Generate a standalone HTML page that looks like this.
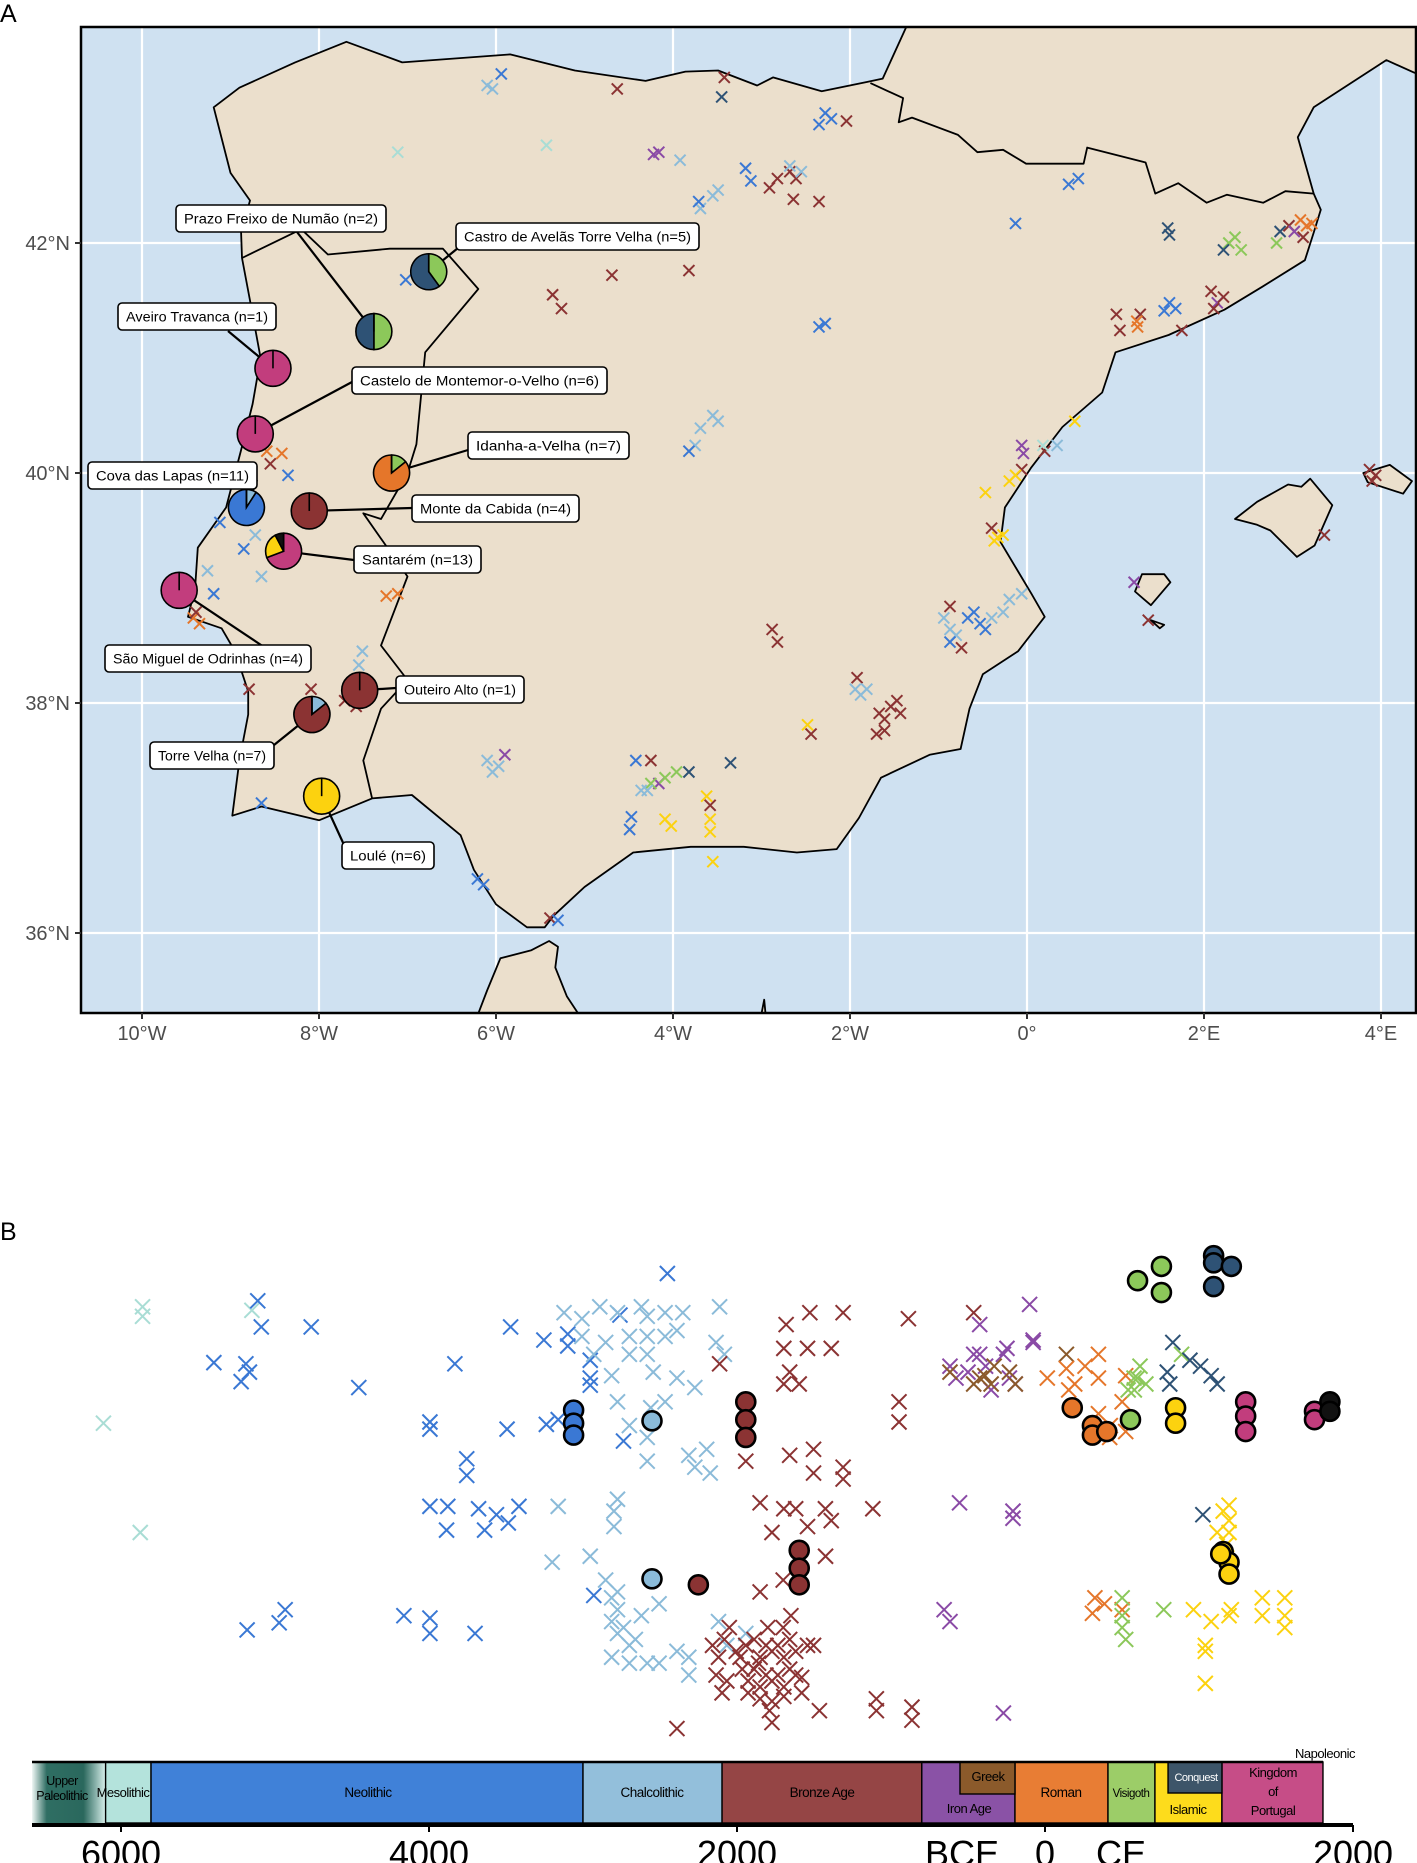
<!DOCTYPE html>
<html><head><meta charset="utf-8"><title>Iberia samples map and timeline</title>
<style>
html,body{margin:0;padding:0;background:#fff;}
svg{display:block;font-family:"Liberation Sans",Arial,sans-serif;}
</style></head>
<body>
<svg id="fig" width="1417" height="1863" viewBox="0 0 1417 1863" xmlns="http://www.w3.org/2000/svg">
<defs>
<clipPath id="mapclip"><rect x="81" y="27" width="1335" height="986"/></clipPath>
<linearGradient id="upgrad" x1="0" x2="1" y1="0" y2="0">
<stop offset="0" stop-color="#eef6f4"/><stop offset="0.2" stop-color="#2f6e63"/><stop offset="0.7" stop-color="#2a685d"/><stop offset="1" stop-color="#d8efeb"/>
</linearGradient>
</defs>
<text x="0" y="22" font-size="25">A</text>
<text x="0" y="1240" font-size="25">B</text>
<g id="map"></g>
<g id="timeline"></g>
</svg>
<script>
// ===== Map data =====
const mapLon = [-6.04,-5.94,-6.10,-7.11,-5.43,-4.63,-3.42,-3.45,-4.16,-4.22,-3.92,-3.69,-3.55,-3.49,-3.71,-3.18,-3.12,-2.91,-2.82,-2.68,-2.61,-2.68,-2.55,-2.64,-2.35,-2.28,-2.21,-2.35,-2.04,0.58,0.47,-0.13,1.59,1.61,2.35,2.28,2.22,2.42,2.82,2.86,2.96,3.09,3.16,3.12,3.02,3.22,
1.61,1.55,1.68,1.28,2.08,2.15,2.22,2.11,1.75,1.01,1.05,1.24,1.25,
-4.69,-3.82,-5.36,-5.26,-2.35,-2.28,-3.55,-3.49,-3.69,-3.75,-3.82,-7.02,
0.20,0.18,-0.06,-0.04,-0.06,0.54,-0.13,-0.20,-0.47,-0.40,-0.37,-0.33,-0.27,3.87,3.90,3.94,3.36,
-0.87,-0.94,-0.87,-0.80,-0.67,-0.60,-0.53,-0.47,-0.40,-0.27,-0.74,-0.87,1.21,1.37,
-2.88,-2.82,-1.92,-1.94,-1.88,-1.81,-1.67,-1.61,-1.54,-1.47,-1.43,-1.61,-1.70,-2.48,-2.44,-4.25,-4.16,-4.25,-4.09,-3.96,-4.29,-4.36,-3.82,-4.42,-4.47,-4.49,-4.09,-4.02,-3.62,-3.58,-3.58,-3.58,-3.55,-3.35,-6.10,-6.04,-5.97,-5.90,-6.21,-6.14,-5.39,-5.30,
-8.55,-8.42,-8.59,-8.35,-9.12,-8.85,-8.72,-8.65,-9.26,-9.19,-9.42,-9.35,-9.39,-7.24,-7.11,-8.79,-8.09,-7.71,-7.58,-7.51,-7.55,-8.65,-0.06,-0.20,0.34];
const mapLat = [43.34,43.47,43.37,42.79,42.85,43.34,43.44,43.27,42.79,42.77,42.72,42.30,42.41,42.46,42.36,42.65,42.54,42.48,42.56,42.62,42.56,42.67,42.62,42.38,42.36,43.13,43.08,43.03,43.06,42.56,42.51,42.17,42.13,42.07,42.05,42.00,41.94,41.94,42.00,42.10,42.15,42.20,42.15,42.05,42.10,42.17,
41.48,41.41,41.43,41.38,41.58,41.48,41.53,41.43,41.24,41.38,41.24,41.32,41.27,
41.72,41.76,41.55,41.43,41.27,41.30,40.50,40.45,40.39,40.24,40.19,41.68,
40.19,40.24,40.24,40.17,40.03,40.45,39.98,39.93,39.83,39.52,39.41,39.44,39.46,40.03,39.93,39.98,39.46,
38.84,38.74,38.64,38.59,38.74,38.79,38.69,38.64,38.74,38.79,38.48,38.53,39.05,38.72,
38.64,38.53,38.22,38.12,38.07,38.12,37.91,37.86,37.97,38.02,37.91,37.76,37.73,37.81,37.73,37.50,37.30,37.30,37.35,37.40,37.24,37.24,37.40,37.50,37.01,36.90,36.99,36.93,37.19,37.11,36.99,36.88,36.62,37.48,37.50,37.40,37.45,37.55,36.47,36.42,36.13,36.11,
40.08,40.17,40.19,39.98,39.57,39.34,39.46,39.10,39.15,38.95,38.74,38.69,38.79,38.93,38.95,38.12,38.12,38.02,37.97,38.45,38.33,37.13,38.95,38.90,40.24];
const mapPer = ("CNCMMBBSIICCCCNNNBBBBCCBBNNNBNNNSSVVSVVSBRRBIR"+
"NNNBBIBBBBBRR"+
"BBBBNNCCCCNN"+
"BMIIBYYYYBYYYBBBB"+
"BCCCNNNNCCBNIB"+
"BBBCCCBBBBBBBYBBIVVVCCSNNNYYYBYYYSCCCINNBN"+
"BRRNNNCCCNRRBRRBBBBCCNCCC").split("");

const siteNames = ["Castro de Avelãs Torre Velha (n=5)","Prazo Freixo de Numão (n=2)","Aveiro Travanca (n=1)","Castelo de Montemor-o-Velho (n=6)","Idanha-a-Velha (n=7)","Cova das Lapas (n=11)","Monte da Cabida (n=4)","Santarém (n=13)","São Miguel de Odrinhas (n=4)","Outeiro Alto (n=1)","Torre Velha (n=7)","Loulé (n=6)"];
const siteLon = [-6.76,-7.38,-8.52,-8.72,-7.18,-8.82,-8.11,-8.40,-9.58,-7.54,-8.08,-7.97];
const siteLat = [41.75,41.23,40.91,40.34,40.00,39.70,39.67,39.32,38.98,38.11,37.90,37.19];
const siteComp = [[["V",2],["S",3]],[["V",1],["S",1]],[["K",1]],[["K",6]],[["V",1],["R",6]],[["C",1],["N",10]],[["B",4]],[["K",9],["Y",3],["X",1]],[["K",4]],[["B",1]],[["C",1],["B",6]],[["Y",6]]];

// ===== Timeline data =====
const crossYear = [-5860,-5860,-6114,-5875,-5150,
-5112,-5089,-4765,-5397,-5189,-5166,-5220,-4456,-3994,-3994,-3493,-3238,-3755,-3755,-3832,-3470,-3254,-3994,-3878,-3678,-3562,-3416,-3886,-3639,-3485,-5181,-4973,-4934,-4163,-3994,-3994,-3701,-3099,-3099,-2953,-2953,-2953,-3161,-2930,-2452,-2760,-2737,
-3123,-3007,-2891,-2776,-2621,-2583,-2467,-2352,-3007,-2853,-2699,-2583,-2467,-2390,-2930,-2699,-2583,-2814,-2544,-2390,-2776,-2560,-2467,-2274,-2136,-2082,-2699,-2583,-2313,-2197,-2274,-2174,-2583,-2776,-2799,-2799,-3161,-2953,-3200,-2814,-2776,-2814,-2776,-2699,-2814,-2621,-2506,-2583,-2390,-2313,-2313,-2066,-1943,-2120,-2506,-2853,-2776,-2737,-2699,-2660,
-2113,-2113,-1681,-1527,-1311,-887,-1696,-1658,-1542,-1388,-1696,-1596,-948,-948,-1943,-1658,-1503,-1503,-1311,-1311,-1696,-1619,-1426,-1118,-1850,-1773,-1542,-1388,-1425,
-2159,-2120,-2082,-2005,-1943,-1889,-1850,-1812,-1773,-1735,-1696,-1658,-1619,-1542,-1503,-2136,-2066,-1966,-1928,-1889,-1850,-1812,-1773,-1735,-1696,-1658,-1619,-1580,-1928,-1850,-1773,-1696,-1580,-2097,-1980,-1860,-1700,-1650,-1800,-2050,-2390,-1789,-1773,-1095,-1095,-864,-864,-1465,-1850,-1700,
-463,-424,-100,-247,-77,-77,-617,-578,-463,-386,-270,-231,-193,-555,-208,-208,-655,-617,-270,-500,-350,
-424,-424,-463,-617,-231,-193,-330,-350,-390,
139,139,347,347,15,154,193,347,424,501,524,324,308,386,501,260,420,
524,578,617,655,540,501,501,501,771,524,600,580,
887,941,794,810,1079,1118,830,1010,
1025,1157,1195,1195,1118,1195,964,1079,1210,1411,1411,1557,1557,1557,1041,1041,1041,1195,1180];
const crossJit = [60,68,158,250,63,
55,77,77,107,108,115,123,128,157,163,163,159,188,202,108,77,88,228,228,230,235,228,248,248,242,332,326,315,320,322,335,335,83,93,105,120,126,155,303,32,67,173,
65,70,60,65,60,68,65,65,85,90,85,85,85,80,100,100,100,118,115,120,140,145,140,128,90,100,160,170,185,180,195,200,190,222,232,245,228,270,275,305,315,325,335,345,355,320,310,360,350,355,370,345,335,325,360,290,300,330,360,340,
60,108,75,65,65,70,95,115,95,95,125,125,140,157,190,185,180,200,195,205,230,230,230,230,225,250,245,240,270,
345,355,340,350,345,340,355,345,350,345,355,340,350,345,345,370,375,365,375,365,380,370,375,370,380,365,370,372,385,390,392,388,385,385,355,360,330,320,330,330,415,400,410,390,400,397,408,400,300,290,
65,75,58,95,90,88,110,120,100,110,100,120,125,225,232,238,315,325,402,115,130,
100,120,125,115,115,125,110,125,118,
100,112,100,120,120,130,125,150,160,140,165,305,318,310,315,110,170,
118,120,110,125,130,305,320,330,315,340,120,130,
100,105,115,125,118,125,90,110,
235,232,240,250,250,227,315,325,315,305,320,305,320,330,345,350,377,320,260];
const crossPer = ("MMMMM"+"N".repeat(42)+"C".repeat(61)+"B".repeat(29)+"B".repeat(50)+"I".repeat(21)+"G".repeat(9)+"R".repeat(17)+"V".repeat(12)+"S".repeat(8)+"Y".repeat(19)).split("");

const circYear = [-3061,-3061,-3061,-2552,-2552,-1943,-1943,-1943,-2251,-1596,-1596,-1596,601,756,756,555,1095,1095,1210,1095,177,308,308,401,848,848,1157,1195,1195,1141,1303,1303,1303,1750,1750,1850,1850];
const circJit = [147,158,168,156,289,140,155,170,294,265,280,294,38,26,48,155,17,23,26,43,145,160,168,165,145,158,266,275,285,268,140,152,165,148,155,140,148];
const circPer = "NNNCCBBBBBBBVVVVSSSSRRRRYYYYYYKKKKKXX".split("");

const periodNames = ["Upper Paleolithic","Mesolithic","Neolithic","Chalcolithic","Bronze Age","Iron Age","Roman","Visigoth","Islamic","Kingdom of Portugal"];
const periodStart = [-6700,-6100,-5805,-3000,-2097,-800,-195,409,714,1149];
const periodEnd   = [-6100,-5805,-3000,-2097,-800,-195,409,714,1149,1805];
const periodColor = ["url(#upgrad)","#b4e3dc","#4081d8","#93bfdb","#954545","#8a52a6","#e87d34","#9ccd68","#fddc1c","#c64d87"];
const axisYears = [-6000,-4000,-2000,0,2000];
const axisLabels = ["6000","4000","2000","0","2000"];

const COL = {M:'#a9ddd5',N:'#3a78d4',C:'#8bbbd9',B:'#8b3333',I:'#8a4aa6',G:'#8b5a2b',R:'#e5762a',V:'#8cc85a',S:'#2e5275',Y:'#fcd20f',K:'#c23d7d',X:'#111111'};

const NS='http://www.w3.org/2000/svg';
function mk(tag,parent){const e=document.createElementNS(NS,tag);parent.appendChild(e);return e;}
function set(e,k,v){e.setAttribute(k,v);}

// ===== Map =====
const lx = lon => 1027 + lon*88.5;
const ly = lat => 473 - (lat-40)*115;
const mapG = document.getElementById('map');
const bg = mk('rect',mapG);
set(bg,'x',81);set(bg,'y',27);set(bg,'width',1335);set(bg,'height',986);set(bg,'fill','#cfe1f1');



[-10,-8,-6,-4,-2,0,2,4].forEach(v=>{const l=mk('line',mapG);set(l,'x1',lx(v));set(l,'x2',lx(v));set(l,'y1',27);set(l,'y2',1013);set(l,'stroke','#fff');set(l,'stroke-width',2.2);

});
[36,38,40,42].forEach(v=>{const l=mk('line',mapG);set(l,'x1',81);set(l,'x2',1416);set(l,'y1',ly(v));set(l,'y2',ly(v));set(l,'stroke','#fff');set(l,'stroke-width',2.2);

});

const mg = mk('g',mapG); set(mg,'clip-path','url(#mapclip)');
function poly(pts,closed,fill,name){
  const p=mk('path',mg);
  const d=pts.map((q,i)=>(i?'L':'M')+lx(q[0]).toFixed(1)+' '+ly(q[1]).toFixed(1)).join(' ')+(closed?' Z':'');
  set(p,'d',d);set(p,'fill',fill);set(p,'stroke','#000');set(p,'stroke-width',1.8);set(p,'stroke-linejoin','round');
  
  
  return p;
}
const LAND='#ebdfcc';
poly([[-1.63,43.43],[-1.81,43.40],[-2.32,43.32],[-2.87,43.44],[-3.05,43.37],[-3.49,43.50],[-3.86,43.49],[-4.31,43.41],[-5.11,43.50],[-5.84,43.64],[-7.06,43.57],[-7.69,43.75],[-8.27,43.57],[-8.9,43.35],[-9.19,43.18],[-9.0,42.61],[-8.78,42.37],[-8.88,42.09],[-8.87,41.87],[-8.78,41.5],[-8.66,41.0],[-8.75,40.6],[-8.88,40.2],[-9.05,39.7],[-9.37,39.35],[-9.4,39.0],[-9.48,38.75],[-9.1,38.65],[-8.95,38.45],[-8.8,38.1],[-8.8,37.9],[-8.9,37.5],[-8.98,37.02],[-8.65,37.1],[-8.0,36.98],[-7.4,37.17],[-6.95,37.2],[-6.4,36.85],[-6.25,36.55],[-6.0,36.25],[-5.65,36.05],[-5.45,36.05],[-5.35,36.15],[-5.0,36.4],[-4.45,36.7],[-3.8,36.75],[-3.2,36.75],[-2.6,36.7],[-2.15,36.73],[-1.9,37.0],[-1.65,37.35],[-1.1,37.55],[-0.75,37.6],[-0.65,37.95],[-0.5,38.25],[-0.1,38.45],[0.2,38.75],[0.05,38.95],[-0.3,39.4],[-0.25,39.7],[0.05,40.05],[0.4,40.4],[0.85,40.7],[1.0,41.05],[1.6,41.2],[2.23,41.42],[2.66,41.62],[3.14,41.85],[3.24,42.09],[3.32,42.29],[3.24,42.43],[3.06,42.92],[3.24,43.18],[4.06,43.59],[4.38,43.48],[4.6,43.45],[4.6,44.1],[-1.30,44.1],[-1.37,43.87]],true,LAND,'iberia-land');
poly([[-6.3,35.1],[-6.1,35.5],[-5.95,35.78],[-5.6,35.85],[-5.4,35.93],[-5.3,35.88],[-5.33,35.7],[-5.2,35.45],[-4.9,35.1]],true,LAND,'africa-land');
poly([[-3.05,35.1],[-2.97,35.42],[-2.93,35.1]],true,LAND,'melilla-cape');
poly([[2.35,39.6],[2.6,39.55],[2.75,39.5],[3.05,39.27],[3.25,39.37],[3.45,39.72],[3.2,39.95],[3.1,39.88],[2.95,39.9],[2.6,39.75]],true,LAND,'mallorca');
poly([[3.8,40.0],[4.1,40.07],[4.35,39.93],[4.25,39.82],[3.85,39.92]],true,LAND,'menorca');
poly([[1.22,38.97],[1.4,38.85],[1.62,39.05],[1.55,39.12],[1.3,39.12]],true,LAND,'ibiza');
poly([[1.4,38.72],[1.55,38.68],[1.5,38.65]],true,LAND,'formentera');
poly([[-8.87,41.87],[-8.2,42.12],[-7.9,41.9],[-7.2,41.95],[-6.6,41.95],[-6.2,41.6],[-6.8,41.05],[-6.9,40.25],[-7.0,40.0],[-7.3,39.6],[-7.5,39.65],[-7.0,39.1],[-7.3,38.5],[-7.0,38.2],[-7.3,37.95],[-7.5,37.5],[-7.4,37.17]],false,'none','portugal-border');
poly([[-1.77,43.39],[-1.40,43.26],[-1.45,43.05],[-1.30,43.09],[-0.78,42.94],[-0.56,42.79],[-0.27,42.81],[-0.01,42.69],[0.64,42.69],[0.68,42.83],[1.34,42.70],[1.45,42.43],[1.71,42.52],[2.03,42.35],[2.26,42.42],[2.67,42.35],[2.92,42.45],[3.24,42.43]],false,'none','france-border');

function cross(parent,x,y,h,c,w){const p=mk('path',parent);set(p,'d',`M${x-h} ${y-h}L${x+h} ${y+h}M${x-h} ${y+h}L${x+h} ${y-h}`);set(p,'stroke',c);set(p,'stroke-width',w);set(p,'fill','none');return p;}
const ptsG = mk('g',mapG); set(ptsG,'clip-path','url(#mapclip)');
for(let i=0;i<mapLon.length;i++){
  const c=cross(ptsG,lx(mapLon[i]),ly(mapLat[i]),5.5,COL[mapPer[i]]||'#555',2);
  
  
}
const boxX=[456,176,118,352,468,88,412,354,105,396,150,342], boxY=[223,205,303,367,432,462,495,546,645,676,742,842], boxW=[243,210,158,255,161,169,167,127,206,128,124,92];
const anchX=[458,297,228,352,468,257,412,354,264,396,274,345], anchY=[248,232,331,382,450,480,508,560,647,688,745,847];
const labG = mk('g',mapG);
for(let i=0;i<siteNames.length;i++){
  const l=mk('line',labG);set(l,'x1',anchX[i]);set(l,'y1',anchY[i]);set(l,'x2',lx(siteLon[i]));set(l,'y2',ly(siteLat[i]));set(l,'stroke','#000');set(l,'stroke-width',2.2);
  
  
}
for(let i=0;i<siteNames.length;i++){
  const cx=lx(siteLon[i]), cy=ly(siteLat[i]), r=18;
  const total=siteComp[i].reduce((a,b)=>a+b[1],0);
  const g=mk('g',labG);
  
  
  let a0=0;
  siteComp[i].forEach(s=>{
    const frac=s[1]/total; const a1=a0+frac*2*Math.PI;
    let e;
    if(frac>=0.999){e=mk('circle',g);set(e,'cx',cx);set(e,'cy',cy);set(e,'r',r);}
    else{e=mk('path',g);
      const x0=cx+r*Math.sin(a0),y0=cy-r*Math.cos(a0),x1=cx+r*Math.sin(a1),y1=cy-r*Math.cos(a1);
      set(e,'d',`M${cx} ${cy}L${x0} ${y0}A${r} ${r} 0 ${frac>0.5?1:0} 1 ${x1} ${y1}Z`);}
    set(e,'fill',COL[s[0]]);set(e,'stroke','#000');set(e,'stroke-width',1.6);
    
    
    a0=a1;
  });
  const tk=mk('line',g);set(tk,'x1',cx);set(tk,'y1',cy);set(tk,'x2',cx);set(tk,'y2',cy-r);set(tk,'stroke','#000');set(tk,'stroke-width',1.6);
}
for(let i=0;i<siteNames.length;i++){
  const b=mk('rect',labG);set(b,'x',boxX[i]);set(b,'y',boxY[i]);set(b,'width',boxW[i]);set(b,'height',27);set(b,'rx',4);set(b,'fill','#fff');set(b,'stroke','#000');set(b,'stroke-width',1.6);
  
  
  const t=mk('text',labG);set(t,'x',boxX[i]+boxW[i]/2);set(t,'y',boxY[i]+18.5);set(t,'text-anchor','middle');set(t,'font-size',13.5);set(t,'textLength',boxW[i]-16);set(t,'lengthAdjust','spacingAndGlyphs');
  t.textContent=siteNames[i];
  
  
}
const fr=mk('rect',mapG);set(fr,'x',81);set(fr,'y',27);set(fr,'width',1335);set(fr,'height',986);set(fr,'fill','none');set(fr,'stroke','#000');set(fr,'stroke-width',2.5);


const latTicks=[36,38,40,42], lonTicks=[-10,-8,-6,-4,-2,0,2,4];
const lonLabels=["10°W","8°W","6°W","4°W","2°W","0°","2°E","4°E"];
latTicks.forEach(v=>{const tk=mk('line',mapG);set(tk,'x1',75);set(tk,'x2',81);set(tk,'y1',ly(v));set(tk,'y2',ly(v));set(tk,'stroke','#333');set(tk,'stroke-width',2);
 const t=mk('text',mapG);set(t,'x',70);set(t,'y',ly(v)+7);set(t,'text-anchor','end');set(t,'font-size',20);set(t,'fill','#4d4d4d');t.textContent=v+'°N';
 
 });
lonTicks.forEach((v,i)=>{const tk=mk('line',mapG);set(tk,'x1',lx(v));set(tk,'x2',lx(v));set(tk,'y1',1013);set(tk,'y2',1019);set(tk,'stroke','#333');set(tk,'stroke-width',2);
 const t=mk('text',mapG);set(t,'x',lx(v));set(t,'y',1040);set(t,'text-anchor','middle');set(t,'font-size',20);set(t,'fill','#4d4d4d');t.textContent=lonLabels[i];
 
 });

// ===== Timeline =====
const tx = yr => 1045 + yr*0.154;
const ty = j => 1235.5 + j*1.188;
const tlG = document.getElementById('timeline');
for(let i=0;i<crossYear.length;i++){
  const c=cross(tlG,tx(crossYear[i]),ty(crossJit[i]),7.5,COL[crossPer[i]]||'#555',2);
  
  
}
for(let i=0;i<circYear.length;i++){
  const c=mk('circle',tlG);set(c,'cx',tx(circYear[i]));set(c,'cy',ty(circJit[i]));set(c,'r',9.5);set(c,'fill',COL[circPer[i]]);set(c,'stroke','#000');set(c,'stroke-width',2.6);
  
  
}
const BT=1762, BB=1823;
for(let i=0;i<periodNames.length;i++){
  const x0=Math.max(32,tx(periodStart[i])), x1=tx(periodEnd[i]);
  const r=mk('rect',tlG);set(r,'x',x0);set(r,'y',BT);set(r,'width',x1-x0);set(r,'height',BB-BT);set(r,'fill',periodColor[i]);set(r,'stroke',i===0?'none':'#000');set(r,'stroke-width',1.4);
  
  
}
function tt(x,y,s,txt,fill,name){const t=mk('text',tlG);set(t,'x',x);set(t,'y',y);set(t,'text-anchor','middle');set(t,'font-size',s);set(t,'fill',fill||'#000');set(t,'letter-spacing','-0.5');t.textContent=txt;
 
 return t;}
const gk=mk('rect',tlG);set(gk,'x',tx(-552));set(gk,'y',BT);set(gk,'width',tx(-195)-tx(-552));set(gk,'height',32);set(gk,'fill','#8b5a2b');set(gk,'stroke','#000');set(gk,'stroke-width',1.4);


const cq=mk('rect',tlG);set(cq,'x',tx(799));set(cq,'y',BT);set(cq,'width',tx(1149)-tx(799));set(cq,'height',31);set(cq,'fill','#3d5569');set(cq,'stroke','#000');set(cq,'stroke-width',1.4);


tt(62,1785,12.5,'Upper','#000','upper-paleolithic-label');tt(62,1800,12.5,'Paleolithic','#000','upper-paleolithic-label');
tt(123,1797,13,'Mesolithic','#000','mesolithic-label');
tt(368,1797,13.5,'Neolithic','#000','neolithic-label');
tt(652,1797,13.5,'Chalcolithic','#000','chalcolithic-label');
tt(822,1797,13.5,'Bronze Age','#000','bronze-age-label');
tt(969,1813,13,'Iron Age','#000','iron-age-label');
tt(988,1781,13,'Greek','#000','greek-label');
tt(1061,1797,13.5,'Roman','#000','roman-label');
tt(1131,1797,11.5,'Visigoth','#000','visigoth-label');
tt(1196,1781,11,'Conquest','#fff','conquest-label');
tt(1188,1814,13,'Islamic','#000','islamic-label');
tt(1273,1777,13,'Kingdom','#000','kingdom-label');tt(1273,1796,13,'of','#000','kingdom-label');tt(1273,1815,13,'Portugal','#000','kingdom-label');
tt(1325,1758,13,'Napoleonic','#000','napoleonic-label');
const topLine=mk('line',tlG);set(topLine,'x1',32);set(topLine,'x2',1323);set(topLine,'y1',BT);set(topLine,'y2',BT);set(topLine,'stroke','#000');set(topLine,'stroke-width',2.5);
const axLine=mk('line',tlG);set(axLine,'x1',32);set(axLine,'x2',1353);set(axLine,'y1',1825);set(axLine,'y2',1825);set(axLine,'stroke','#000');set(axLine,'stroke-width',4);


axisYears.forEach((y,i)=>{const k=mk('line',tlG);set(k,'x1',tx(y));set(k,'x2',tx(y));set(k,'y1',1825);set(k,'y2',1832);set(k,'stroke','#000');set(k,'stroke-width',2);
 const t=tt(tx(y),1866,36,axisLabels[i],'#000','timeline-tick-label');set(t,'letter-spacing','0');});
const bceLabel=tt(962,1866,36,'BCE','#000','bce-label');set(bceLabel,'letter-spacing','0');
const ceLabel=tt(1121,1866,36,'CE','#000','ce-label');set(ceLabel,'letter-spacing','0');
</script>
</body></html>
